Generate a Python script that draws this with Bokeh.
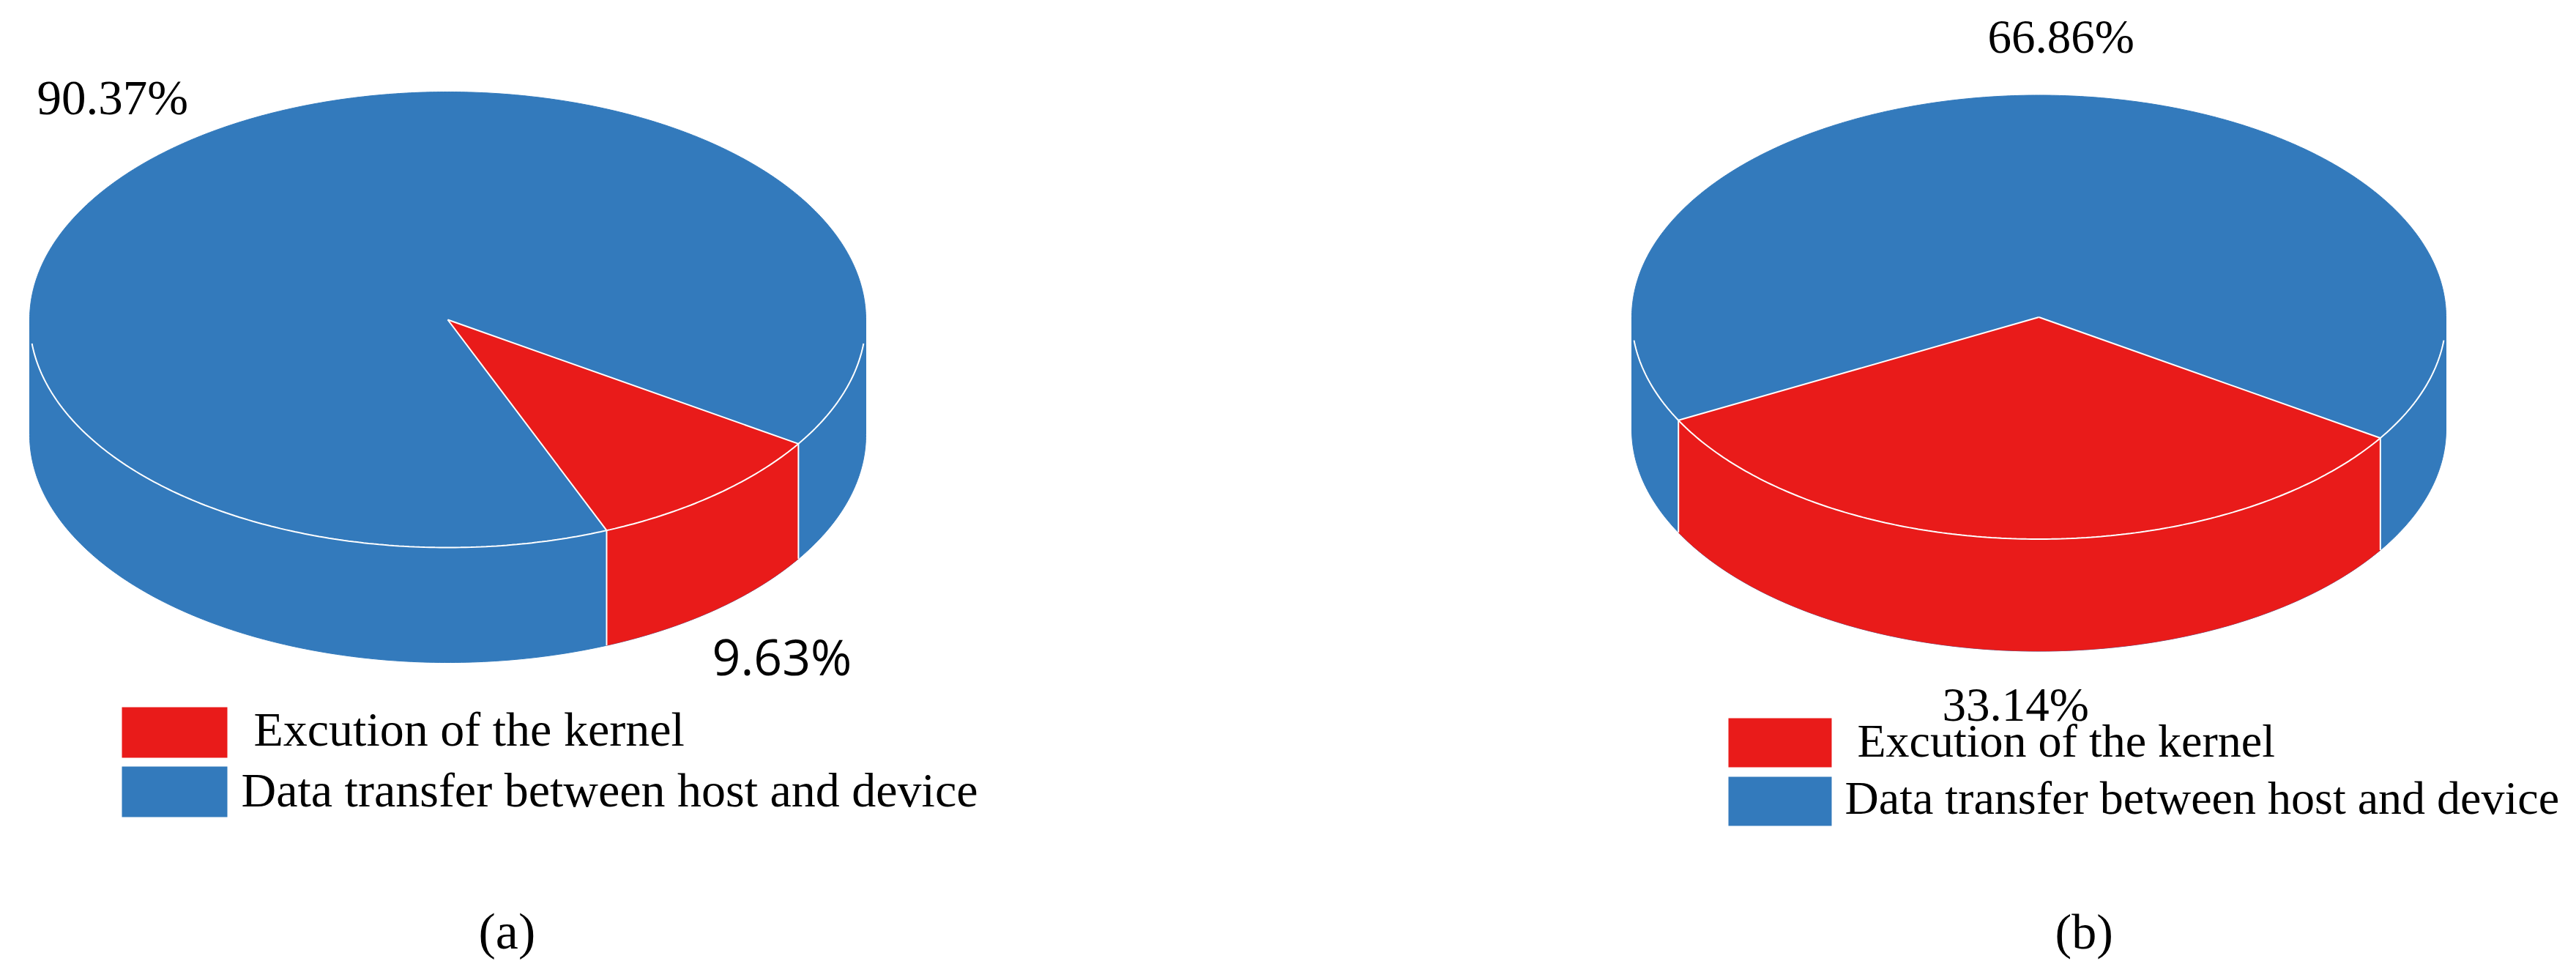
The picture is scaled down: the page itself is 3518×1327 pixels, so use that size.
import numpy as np
from bokeh.embed import file_html
from bokeh.resources import INLINE
from bokeh.plotting import figure
from bokeh.layouts import row
from bokeh.models import Range1d
from bokeh.core.properties import value

# ---- data ----
series_names = ["Excution of the kernel", "Data transfer between host and device"]
values_a = [9.63, 90.37]
values_b = [33.14, 66.86]
labels_a = ["9.63%", "90.37%"]
labels_b = ["33.14%", "66.86%"]
captions = ["(a)", "(b)"]

# ---- style ----
RED = "#E91B1A"
BLUE = "#337ABC"
WHITE = "#FFFFFF"
START_ANGLE = 33.0   # degrees, clockwise on screen from 3 o'clock
SERIF = "Liberation Serif"
SANS = "Open Sans"
TEXT_DY = -25        # offset of the rendered text baseline


def arc(cx, cy, rx, ry, a0, a1, n=240):
    t = np.radians(np.linspace(a0, a1, n))
    return cx + rx * np.cos(t), cy + ry * np.sin(t)


def label(p, x, y, txt, size, font=SERIF):
    p.text([x], [y + TEXT_DY], text=[txt], text_font=value(font),
           text_font_size=value(f"{size}px"), text_color="#000000",
           text_align="left", text_baseline="alphabetic")


def panel(values, x0, x1, width, cx, cy, rx, ry, depth, texts, boxes, caption):
    p = figure(width=width, height=1311, output_backend="svg", toolbar_location=None,
               x_range=Range1d(x0, x1), y_range=Range1d(1311, 0),
               x_axis_location=None, y_axis_location=None, min_border=0,
               outline_line_color=None)
    p.grid.visible = False

    sweep = values[0] / 100.0 * 360.0
    a0, a1 = START_ANGLE, START_ANGLE + sweep

    # side wall: whole front in blue
    xs, ys = arc(cx, cy + depth, rx, ry, 0, 180)
    p.patch(np.r_[cx + rx, xs, cx - rx], np.r_[cy, ys, cy], fill_color=BLUE, line_color=BLUE)
    # side wall of the red slice
    xt, yt = arc(cx, cy, rx, ry, a0, a1)
    xb, yb = arc(cx, cy + depth, rx, ry, a1, a0)
    p.patch(np.r_[xt, xb], np.r_[yt, yb], fill_color=RED, line_color=RED, line_width=0.5)

    # top face
    xs, ys = arc(cx, cy, rx, ry, 0, 360, 720)
    p.patch(xs, ys, fill_color=BLUE, line_color=BLUE)
    xw, yw = arc(cx, cy, rx, ry, a0, a1)
    p.patch(np.r_[cx, xw], np.r_[cy, yw], fill_color=RED, line_color=RED, line_width=0.5)

    # white edges
    xs, ys = arc(cx, cy, rx, ry, 6, 174)
    p.line(xs, ys, line_color=WHITE, line_width=2)
    for a in (a0, a1):
        ex, ey = arc(cx, cy, rx, ry, a, a, 1)
        p.line([cx, ex[0]], [cy, ey[0]], line_color=WHITE, line_width=2)
        p.line([ex[0], ex[0]], [ey[0], ey[0] + depth], line_color=WHITE, line_width=2)

    # legend
    for (bx0, bx1, by0, by1), col in zip(boxes, (RED, BLUE)):
        p.quad(left=[bx0], right=[bx1], top=[by0], bottom=[by1], fill_color=col, line_color=None)
    for x, y, txt, size, font in texts:
        label(p, x, y, txt, size, font)
    label(p, caption[0], caption[1], caption[2], caption[3])
    return p


pa = panel(values_a, 0, 1760, 1760, 611, 436, 571, 311, 157,
           [(50, 157, labels_a[1], 67, SERIF),
            (972, 920, labels_a[0], 68, SANS),
            (346, 1020, series_names[0], 66, SERIF),
            (329, 1103, series_names[1], 66, SERIF)],
           [(166, 310, 965, 1034), (166, 310, 1046, 1115)],
           (653, 1296, captions[0], 70))

pb = panel(values_b, 1760, 3510, 1750, 2784, 432.5, 556, 303, 153,
           [(2714, 74, labels_b[1], 65, SERIF),
            (2652, 986, labels_b[0], 65, SERIF),
            (2536, 1036, series_names[0], 64, SERIF),
            (2519, 1114, series_names[1], 64, SERIF)],
           [(2360, 2501, 980, 1047), (2360, 2501, 1060, 1127)],
           (2806, 1296, captions[1], 68))

layout = row(pa, pb, spacing=0)
open("out.html", "w").write(file_html(layout, INLINE))
